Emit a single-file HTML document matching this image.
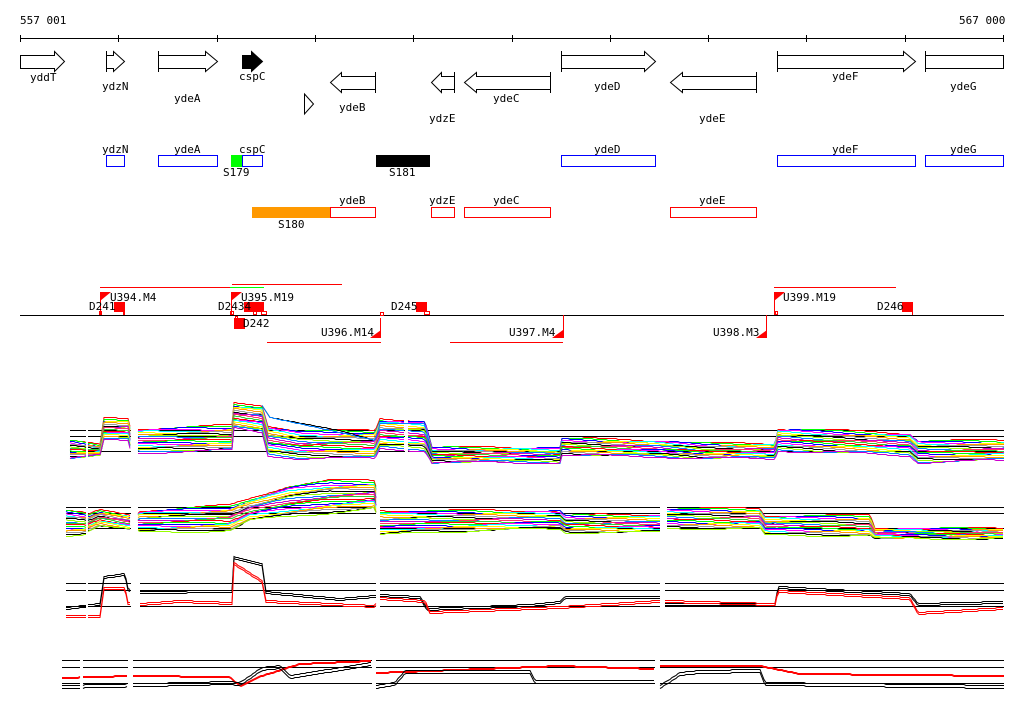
<!DOCTYPE html>
<html><head><meta charset="utf-8"><style>
html,body{margin:0;padding:0;background:#fff;width:1024px;height:714px;overflow:hidden}
svg{display:block}
text{font-family:"DejaVu Sans Mono","Liberation Mono",monospace;font-size:11px;fill:#000}
</style></head><body>
<svg id="s" width="1024" height="714" viewBox="0 0 1024 714" xmlns="http://www.w3.org/2000/svg">
<g shape-rendering="crispEdges">
<text x="20" y="24">557 001</text>
<text x="959" y="24">567 000</text>
<line x1="20" y1="38.5" x2="1004" y2="38.5" stroke="#000"/>
<g stroke="#000">
<line x1="20.5" y1="35" x2="20.5" y2="42"/><line x1="118.5" y1="35" x2="118.5" y2="42"/><line x1="217.5" y1="35" x2="217.5" y2="42"/><line x1="315.5" y1="35" x2="315.5" y2="42"/><line x1="413.5" y1="35" x2="413.5" y2="42"/><line x1="512.5" y1="35" x2="512.5" y2="42"/><line x1="610.5" y1="35" x2="610.5" y2="42"/><line x1="708.5" y1="35" x2="708.5" y2="42"/><line x1="806.5" y1="35" x2="806.5" y2="42"/><line x1="905.5" y1="35" x2="905.5" y2="42"/><line x1="1003.5" y1="35" x2="1003.5" y2="42"/>
</g>
</g>
<g fill="#fff" stroke="#000" stroke-width="1">
<polygon points="20.5,55.5 54.5,55.5 54.5,51.5 64.5,61.5 54.5,71.5 54.5,68.5 20.5,68.5"/>
<polygon points="106.5,55.5 113.5,55.5 113.5,51.5 124.5,61.5 113.5,71.5 113.5,68.5 106.5,68.5"/>
<line x1="106.5" y1="51" x2="106.5" y2="72"/>
<polygon points="158.5,55.5 205.5,55.5 205.5,51.5 217.5,61.5 205.5,71.5 205.5,68.5 158.5,68.5"/>
<line x1="158.5" y1="51" x2="158.5" y2="72"/>
<polygon fill="#000" points="242.5,55.5 251.5,55.5 251.5,51.5 262.5,61.5 251.5,71.5 251.5,68.5 242.5,68.5"/>
<polygon points="375.5,76.5 341.5,76.5 341.5,72.5 330.5,82.5 341.5,92.5 341.5,89.5 375.5,89.5"/>
<line x1="375.5" y1="72" x2="375.5" y2="93"/>
<polygon points="454.5,76.5 441.5,76.5 441.5,72.5 431.5,82.5 441.5,92.5 441.5,89.5 454.5,89.5"/>
<line x1="454.5" y1="72" x2="454.5" y2="93"/>
<polygon points="550.5,76.5 476.5,76.5 476.5,72.5 464.5,82.5 476.5,92.5 476.5,89.5 550.5,89.5"/>
<line x1="550.5" y1="72" x2="550.5" y2="93"/>
<polygon points="561.5,55.5 644.5,55.5 644.5,51.5 655.5,61.5 644.5,71.5 644.5,68.5 561.5,68.5"/>
<line x1="561.5" y1="51" x2="561.5" y2="72"/>
<polygon points="756.5,76.5 682.5,76.5 682.5,72.5 670.5,82.5 682.5,92.5 682.5,89.5 756.5,89.5"/>
<line x1="756.5" y1="72" x2="756.5" y2="93"/>
<polygon points="777.5,55.5 903.5,55.5 903.5,51.5 915.5,61.5 903.5,71.5 903.5,68.5 777.5,68.5"/>
<line x1="777.5" y1="51" x2="777.5" y2="72"/>
<rect x="925.5" y="55.5" width="78" height="13"/>
<line x1="925.5" y1="51" x2="925.5" y2="72"/>
<polygon points="304.5,94 313.5,104 304.5,114"/>
</g>
<text x="30" y="81">yddT</text><text x="102" y="90">ydzN</text><text x="174" y="102">ydeA</text><text x="239" y="80">cspC</text>
<text x="339" y="111">ydeB</text><text x="429" y="122">ydzE</text><text x="493" y="102">ydeC</text><text x="594" y="90">ydeD</text>
<text x="699" y="122">ydeE</text><text x="832" y="80">ydeF</text><text x="950" y="90">ydeG</text>
<g fill="none" stroke="#0000ff" shape-rendering="crispEdges">
<rect x="106.5" y="155.5" width="18" height="11"/><rect x="158.5" y="155.5" width="59" height="11"/><rect x="242.5" y="155.5" width="20" height="11"/>
<rect x="561.5" y="155.5" width="94" height="11"/><rect x="777.5" y="155.5" width="138" height="11"/><rect x="925.5" y="155.5" width="78" height="11"/>
</g>
<rect x="231" y="155" width="11" height="12" fill="#00ff00"/>
<rect x="376" y="155" width="54" height="12" fill="#000"/>
<text x="102" y="153">ydzN</text><text x="174" y="153">ydeA</text><text x="239" y="153">cspC</text><text x="594" y="153">ydeD</text><text x="832" y="153">ydeF</text><text x="950" y="153">ydeG</text>
<text x="223" y="176">S179</text><text x="389" y="176">S181</text>
<rect x="252" y="207" width="78" height="11" fill="#ff9900"/>
<g fill="none" stroke="#ff0000" shape-rendering="crispEdges">
<rect x="330.5" y="207.5" width="45" height="10"/><rect x="431.5" y="207.5" width="23" height="10"/><rect x="464.5" y="207.5" width="86" height="10"/><rect x="670.5" y="207.5" width="86" height="10"/>
</g>
<text x="339" y="204">ydeB</text><text x="429" y="204">ydzE</text><text x="493" y="204">ydeC</text><text x="699" y="204">ydeE</text>
<text x="278" y="228">S180</text>
<g shape-rendering="crispEdges">
<line x1="20" y1="315.5" x2="1004" y2="315.5" stroke="#000"/>
<g stroke="#ff0000">
<line x1="100" y1="287.5" x2="230" y2="287.5"/><line x1="232" y1="284.5" x2="342" y2="284.5"/>
<line x1="267" y1="342.5" x2="381" y2="342.5"/><line x1="450" y1="342.5" x2="563" y2="342.5"/>
<line x1="774" y1="287.5" x2="896" y2="287.5"/>
</g>
<line x1="230" y1="287.5" x2="264" y2="287.5" stroke="#00ff00"/>
</g>
<g fill="#ff0000">
<polygon points="100,292 111,292 100,301"/><rect x="100" y="292" width="1" height="23"/><rect x="99" y="311" width="3" height="4"/>
<rect x="114" y="302" width="11" height="10"/><rect x="123" y="302" width="2" height="13"/>
<polygon points="231,292 242,292 231,301"/><rect x="231" y="292" width="1" height="23"/>
<rect x="244" y="302" width="20" height="10"/>
<rect x="234" y="318" width="11" height="11"/>
<polygon points="381,330 370,338 381,338"/><rect x="380" y="318" width="1" height="20"/>
<rect x="416" y="302" width="11" height="10"/>
<polygon points="563,330 552,338 563,338"/><rect x="563" y="315" width="1" height="23"/>
<polygon points="767,330 756,338 767,338"/><rect x="766" y="315" width="1" height="23"/>
<polygon points="774,292 785,292 774,301"/><rect x="774" y="292" width="1" height="23"/>
<rect x="902" y="302" width="11" height="10"/><rect x="912" y="302" width="1" height="13"/>
</g>
<g fill="none" stroke="#ff0000" shape-rendering="crispEdges">
<rect x="230.5" y="311.5" width="3" height="3"/><rect x="253.5" y="311.5" width="3" height="3"/><rect x="261.5" y="311.5" width="5" height="3"/>
<rect x="235.5" y="316.5" width="2" height="3"/><rect x="380.5" y="312.5" width="3" height="3"/><rect x="424.5" y="311.5" width="5" height="3"/>
<rect x="775.5" y="311.5" width="2" height="3"/>
</g>
<text x="89" y="310">D241</text><text x="110" y="301">U394.M4</text>
<text x="218" y="310">D2434</text><text x="241" y="301">U395.M19</text>
<text x="243" y="327">D242</text><text x="391" y="310">D245</text>
<text x="321" y="336">U396.M14</text><text x="509" y="336">U397.M4</text><text x="713" y="336">U398.M3</text>
<text x="783" y="301">U399.M19</text><text x="877" y="310">D246</text>
<g id="charts"></g>
</svg>
<script>
(function(){
var g=document.getElementById('charts'),NS='http://www.w3.org/2000/svg';
function el(t,a){var e=document.createElementNS(NS,t);for(var k in a)e.setAttribute(k,a[k]);g.appendChild(e);return e;}
function hl(ys,x0,sg){ys.forEach(function(y){sg.forEach(function(s){el('line',{x1:Math.max(s[0],x0),x2:s[1],y1:y+.5,y2:y+.5,stroke:'#000','shape-rendering':'crispEdges'});});});}
function interp(pts,x){for(var i=0;i<pts.length-1;i++){if(x>=pts[i][0]&&x<=pts[i+1][0]){var t=(x-pts[i][0])/(pts[i+1][0]-pts[i][0]||1);return pts[i][1]+t*(pts[i+1][1]-pts[i][1]);}}return pts[x<pts[0][0]?0:pts.length-1][1];}
function bundle(P,sg,n){var cols=['#ff0000','#00ff00','#0000ff','#ff00ff','#00ffff','#ffff00','#ff9900','#999999','#000000','#99ff00','#0080ff','#cc00cc','#ff3366','#33cc33'];
 for(var k=0;k<n;k++){var f=k/(n-1);sg.forEach(function(s){var d='';for(var x=s[0];x<=s[1];x+=2){var top=interp(P.t,x),bot=interp(P.b,x);var y=Math.round(top+(bot-top)*f+Math.sin(x*0.05+k)*1.2);d+=(d?'L':'M')+x+','+y+'.5';}
 el('path',{d:d,fill:'none',stroke:cols[k%cols.length],'stroke-width':1});});}}
function line(pts,sg,c,w,off){sg.forEach(function(s){var d='';for(var x=s[0];x<=s[1];x+=2){d+=(d?'L':'M')+x+','+(Math.round(interp(pts,x))+(off||0))+'.5';}el('path',{d:d,fill:'none',stroke:c,'stroke-width':w||1});});}
var s1=[[70,86],[88,131],[138,405],[408,1004]];
hl([430,436,451],70,s1);
bundle({t:[[70,440],[100,445],[104,418],[128,418],[131,430],[138,428],[232,425],[234,403],[262,405],[268,425],[300,430],[375,430],[380,418],[425,420],[432,447],[560,447],[562,438],[660,440],[700,443],[775,443],[778,428],[910,433],[918,440],[1004,440]],
 b:[[70,458],[100,455],[104,440],[128,440],[131,452],[138,452],[232,450],[234,428],[262,432],[268,455],[300,458],[375,458],[380,448],[425,450],[432,462],[560,462],[562,455],[660,456],[700,458],[775,458],[778,450],[910,455],[918,462],[1004,460]]},s1,26);
line([[232,403],[262,405],[270,417],[340,430],[375,440]],[[262,375]],'#000');
line([[262,405],[270,417],[340,432],[375,440],[380,423],[425,423],[430,448]],[[262,430]],'#0080ff');
var s2=[[66,86],[88,131],[138,376],[380,660],[667,1004]];
hl([507,513,528],66,s2);
bundle({t:[[66,510],[86,513],[88,515],[100,510],[135,515],[140,510],[230,505],[250,498],[290,485],[330,480],[375,480],[380,510],[420,510],[560,510],[565,515],[660,514],[667,508],[760,508],[765,515],[870,515],[875,528],[1004,528]],
 b:[[66,535],[86,533],[88,530],[100,525],[135,530],[140,532],[230,530],[250,520],[300,515],[375,508],[380,535],[420,532],[560,528],[565,532],[660,532],[667,528],[760,528],[765,535],[870,535],[875,538],[1004,538]]},s2,24);
var s3=[[66,86],[88,131],[140,376],[380,660],[665,1004]];
hl([583,590,606],66,s3);
var b3=[[66,609],[100,605],[104,578],[125,575],[128,590],[135,593],[140,593],[232,592],[234,558],[262,565],[266,593],[340,600],[375,597],[380,596],[420,598],[427,610],[450,609],[530,606],[560,603],[565,598],[660,598],[665,605],[775,605],[778,588],[910,595],[918,605],[1004,603]];
var r3=[[66,615],[100,615],[104,587],[125,587],[128,602],[135,602],[140,603],[180,600],[232,602],[234,562],[262,580],[266,600],[375,605],[380,597],[425,600],[430,611],[560,606],[660,600],[665,600],[775,603],[778,590],[910,597],[918,612],[1004,607]];
line(b3,s3,'#000',1,0);line(b3,s3,'#000',1,-2);line(r3,s3,'#ff0000',1,0);line(r3,s3,'#ff0000',1,2);
var s4=[[62,80],[83,128],[133,372],[376,655],[660,1004]];
hl([660,667,683],62,s4);
var r4=[[62,677],[130,675],[230,676],[240,685],[262,675],[300,663],[372,660],[376,672],[430,670],[560,665],[655,668],[660,665],[760,665],[800,673],[1004,675]];
var k4=[[62,688],[230,684],[240,685],[262,670],[280,668],[290,678],[372,665],[376,688],[395,685],[405,673],[530,673],[535,683],[655,683],[660,688],[680,675],[700,673],[760,672],[765,685],[1004,688]];
line(r4,s4,'#ff0000',1,0);line(r4,s4,'#ff0000',1,1);line(k4,s4,'#000',1,0);line(k4,s4,'#000',1,-3);
})();
</script>
</body></html>
